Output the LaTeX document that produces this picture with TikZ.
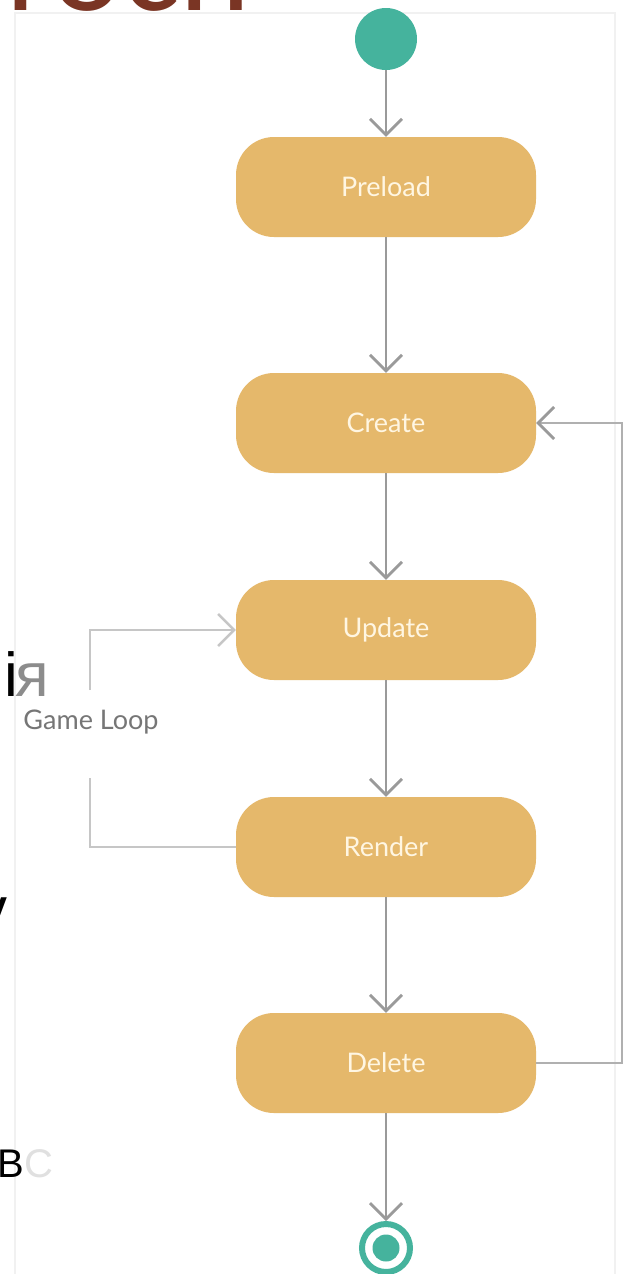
\documentclass[tikz,border=0pt]{standalone}
\usepackage{fontspec}
\setmainfont{Lato}
\newfontfamily\slidefont{Liberation Sans}
\newfontfamily\titlefont{Carlito}
\usetikzlibrary{arrows.meta,positioning}

\definecolor{statefill}{HTML}{E5B86B}
\definecolor{statetext}{HTML}{FFF6E2}
\definecolor{teal}{HTML}{45B39D}
\definecolor{flowgray}{HTML}{9A9A9A}
\definecolor{loopgray}{HTML}{B0B0B0}
\definecolor{glgray}{HTML}{C6C6C6}
\definecolor{labelgray}{HTML}{767676}
\definecolor{titlebrown}{HTML}{7A3524}
\definecolor{framegray}{HTML}{F1F1F1}

\tikzset{
  state/.style={rectangle, rounded corners=38pt, fill=statefill,
    minimum width=300pt, minimum height=100pt, inner sep=0pt,
    text=statetext, font=\fontsize{27}{32}\selectfont},
  flow/.style={draw=flowgray, line width=2.8pt,
    -{Straight Barb[length=16pt,width=32pt,line width=2.8pt]}},
  backloop/.style={draw=loopgray, line width=2.5pt,
    -{Straight Barb[length=16pt,width=32pt,line width=2.8pt,color=flowgray]}},
  gameloop/.style={draw=glgray, line width=2.5pt},
  gameloopin/.style={gameloop,
    -{Straight Barb[length=16pt,width=32pt,line width=2.5pt]}},
  slidetext/.style={inner sep=0pt, anchor=base west, font=\slidefont},
}

\begin{document}
\begin{tikzpicture}[x=1pt, y=-1pt]
  \useasboundingbox (0,0) rectangle (630,1274);
  \clip (0,0) rectangle (630,1274);
  \fill[white] (0,0) rectangle (630,1274);

  % faint frame of the diagram canvas
  \draw[framegray, line width=1.2pt] (15,1290) -- (15,13) -- (615,13) -- (615,1290);

  % cut-off slide title above the canvas
  \node[inner sep=0pt, anchor=base west, text=titlebrown,
        font=\titlefont\fontsize{135}{135}\selectfont] (title) at (6,10) {roch};

  % slide text fragments on the left edge
  \node[slidetext, font=\slidefont\fontsize{62}{62}\selectfont] (fragA) at (4,696) {і};
  \node[slidetext, text=black!45, font=\slidefont\fontsize{62}{62}\selectfont] (fragB) at (15,696) {я};
  \node[slidetext, font=\slidefont\fontsize{62}{62}\selectfont] (fragC) at (-24,930) {v};
  \node[slidetext, font=\slidefont\fontsize{40}{40}\selectfont] (fragD) at (-3,1177) {B};
  \node[slidetext, text=black!12, font=\slidefont\fontsize{40}{40}\selectfont] (fragE) at (24,1177) {C};

  % states
  \node[circle, fill=teal, minimum size=62pt, inner sep=0pt] (start) at (386,39) {};
  \node[state] (pre) at (386,187) {Preload};
  \node[state] (cre) at (386,423) {Create};
  \node[state] (upd) at (386,630) {Update};
  \node[state] (ren) at (386,847) {Render};
  \node[state] (del) at (386,1063) {Delete};
  \node[circle, draw=teal, line width=6pt, fill=white, minimum size=48pt, inner sep=0pt] (end) at (386,1248) {};
  \node[circle, fill=teal, minimum size=27pt, inner sep=0pt] (endcore) at (end.center) {};

  % main flow
  \draw[flow] (start) -- (pre);
  \draw[flow] (pre) -- (cre);
  \draw[flow] (cre) -- (upd);
  \draw[flow] (upd) -- (ren);
  \draw[flow] (ren) -- (del);
  \draw[flow] (del) -- (end);

  % return from Delete to Create
  \coordinate (rback) at (622,1063);
  \draw[backloop] (del.east) -- (rback) |- (cre.east);

  % game loop between Render and Update
  \coordinate (glbot) at (90,778);
  \coordinate (gltop) at (90,690);
  \draw[gameloop] (ren.west) -| (glbot);
  \draw[gameloopin] (gltop) |- (upd.west);
  \node[text=labelgray, font=\fontsize{27}{32}\selectfont, inner sep=0pt] (gl) at (91,722) {Game Loop};
\end{tikzpicture}
\end{document}
